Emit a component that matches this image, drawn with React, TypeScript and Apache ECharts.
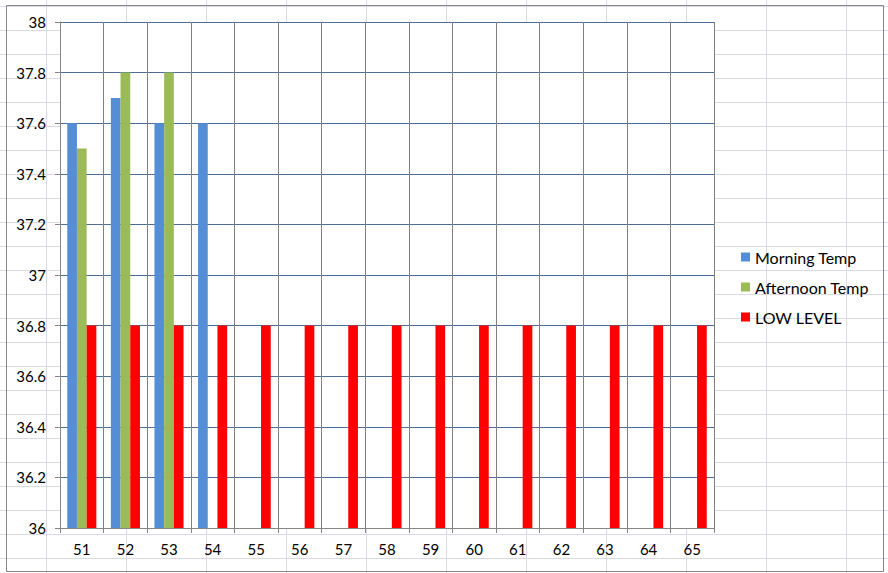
import React, { useEffect, useRef } from "react";
import * as echarts from "echarts";

const categories = ["51", "52", "53", "54", "55", "56", "57", "58", "59", "60", "61", "62", "63", "64", "65"];
const morningTemp: (number | null)[] = [37.6, 37.7, 37.6, 37.6, null, null, null, null, null, null, null, null, null, null, null];
const afternoonTemp: (number | null)[] = [37.5, 37.8, 37.8, null, null, null, null, null, null, null, null, null, null, null, null];
const lowLevel: number[] = [36.8, 36.8, 36.8, 36.8, 36.8, 36.8, 36.8, 36.8, 36.8, 36.8, 36.8, 36.8, 36.8, 36.8, 36.8];

const FONT = "Lato, 'Open Sans', sans-serif";

export default function App() {
  const ref = useRef<HTMLDivElement>(null);
  useEffect(() => {
    if (!ref.current) return;
    const chart = echarts.init(ref.current, undefined, { renderer: "svg" });
    chart.setOption({
      animation: false,
      backgroundColor: "transparent",
      textStyle: { fontFamily: FONT },
      graphic: [
        {
          type: "rect",
          shape: { x: 6.5, y: 5.5, width: 877, height: 566 },
          style: { fill: "none", stroke: "#868686", lineWidth: 1 },
          silent: true,
          z: -10,
        },
      ],
      grid: {
        left: 60,
        top: 22,
        right: 174,
        bottom: 45,
        show: true,
        backgroundColor: "#ffffff",
        borderWidth: 0,
      },
      legend: {
        orient: "vertical",
        left: 736,
        top: 244,
        itemWidth: 9,
        itemHeight: 9,
        itemGap: 14,
        icon: "rect",
        textStyle: { fontFamily: FONT, fontSize: 16, color: "#000", lineHeight: 16 },
        data: ["Morning Temp", "Afternoon Temp", "LOW LEVEL"],
      },
      xAxis: {
        type: "category",
        data: categories,
        boundaryGap: true,
        axisLine: { show: true, lineStyle: { color: "#868686", width: 1 } },
        axisTick: { show: true, interval: 0, length: 5, lineStyle: { color: "#868686" } },
        axisLabel: { interval: 0, margin: 13, color: "#000", fontSize: 15, fontFamily: FONT },
        splitLine: { show: true, interval: 0, lineStyle: { color: "#808080", width: 1 } },
      },
      yAxis: {
        type: "value",
        min: 36,
        max: 38,
        interval: 0.2,
        axisLine: { show: true, lineStyle: { color: "#868686", width: 1 } },
        axisTick: { show: true, length: 5, lineStyle: { color: "#868686" } },
        axisLabel: { margin: 14, color: "#000", fontSize: 15, fontFamily: FONT },
        splitLine: { show: true, lineStyle: { color: "#4e6e96", width: 1 } },
      },
      series: [
        {
          name: "Morning Temp",
          type: "bar",
          data: morningTemp,
          barWidth: 9.7,
          barGap: "0%",
          itemStyle: { color: "#558ed5" },
        },
        {
          name: "Afternoon Temp",
          type: "bar",
          data: afternoonTemp,
          barWidth: 9.7,
          barGap: "0%",
          itemStyle: { color: "#9bbb59" },
        },
        {
          name: "LOW LEVEL",
          type: "bar",
          data: lowLevel,
          barWidth: 9.7,
          barGap: "0%",
          itemStyle: { color: "#ff0000" },
        },
      ],
    });
    return () => chart.dispose();
  }, []);

  return (
    <div
      style={{
        position: "absolute",
        left: 0,
        top: 0,
        width: 888,
        height: 573,
        backgroundColor: "#ffffff",
        backgroundImage:
          "linear-gradient(to right, #dadae6 1px, transparent 1px), linear-gradient(to bottom, #dadae6 1px, transparent 1px)",
        backgroundSize: "80px 24px",
        backgroundPosition: "46px 6px",
      }}
    >
      <div ref={ref} style={{ width: 888, height: 573 }} />
    </div>
  );
}
